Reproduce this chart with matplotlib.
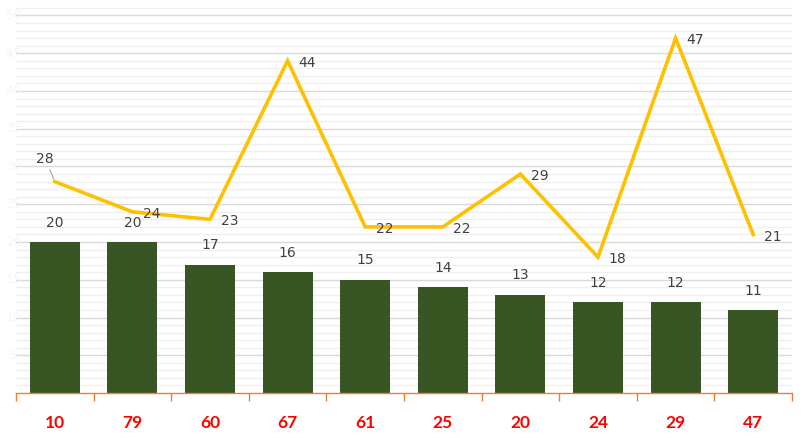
import matplotlib

matplotlib.use("Agg")
import matplotlib.pyplot as plt
import numpy as np

categories = ["10", "79", "60", "67", "61", "25", "20", "24", "29", "47"]
bar_values = [20, 20, 17, 16, 15, 14, 13, 12, 12, 11]
line_values = [28, 24, 23, 44, 22, 22, 29, 18, 47, 21]

BAR_COLOR = "#375623"
LINE_COLOR = "#ffc000"
TEXT_COLOR = "#404040"

fig = plt.figure(figsize=(8.07, 4.38), dpi=100)
ax = fig.add_axes([16 / 807, 1 - 393 / 438, 776 / 807, 393 / 438])

x = np.arange(len(categories))
ax.set_xlim(-0.5, len(categories) - 0.5)
ax.set_ylim(0, 393 / 7.55)

# gridlines: major every 5, minor every 1
for v in range(1, 52):
    major = v % 5 == 0
    ax.axhline(v, color="#d9d9d9" if major else "#efefef", lw=1.0 if major else 0.9, zorder=0)

ax.bar(x, bar_values, width=0.645, color=BAR_COLOR, zorder=2)
ax.plot(x, line_values, color=LINE_COLOR, lw=2.6, zorder=3, solid_joinstyle="miter")

for xi, v in zip(x, bar_values):
    ax.annotate(str(v), (xi, v), xytext=(0, 14), textcoords="offset points",
                ha="center", va="center", fontsize=10, color=TEXT_COLOR, zorder=4)

for i, (xi, v) in enumerate(zip(x, line_values)):
    if i == 0:
        ax.annotate(str(v), (xi, v), xytext=(-7, 16.5), textcoords="offset points",
                    ha="center", va="center", fontsize=10, color=TEXT_COLOR, zorder=4,
                    arrowprops=dict(arrowstyle="-", color="#a6a6a6", lw=0.8,
                                    shrinkA=1, shrinkB=2))
    else:
        ax.annotate(str(v), (xi, v), xytext=(14, -1.5), textcoords="offset points",
                    ha="center", va="center", fontsize=10, color=TEXT_COLOR, zorder=4)

# faint y labels at the left edge
for v in range(5, 51, 5):
    ax.text(-0.53, v, str(v), ha="center", va="center", fontsize=9, color="#f5f5f5",
            zorder=1)

for s in ["left", "right", "top"]:
    ax.spines[s].set_visible(False)
ax.spines["bottom"].set_color("#ed7d31")
ax.spines["bottom"].set_linewidth(1.0)

ax.set_yticks([])
ax.set_xticks(np.arange(-0.5, len(categories)), minor=False)
ax.set_xticklabels([])
ax.tick_params(axis="x", which="major", length=6, color="#ed7d31", width=1.0, direction="out")
ax.set_xticks(x, minor=True)
ax.set_xticklabels(categories, minor=True, fontsize=12.5, fontweight="bold", color="#ff0000",
                   family="Lato")
ax.tick_params(axis="x", which="minor", length=0, pad=16)

fig.savefig("out.png", dpi=100)
